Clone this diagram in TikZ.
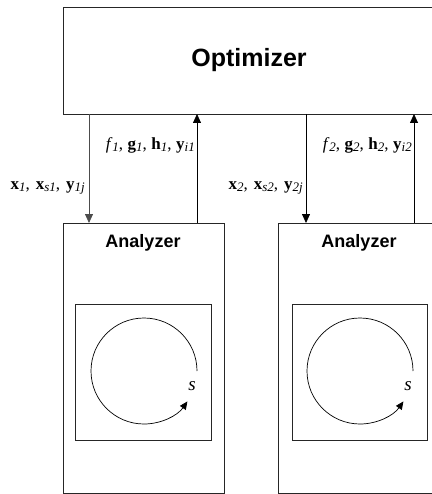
\documentclass[tikz,border=0pt]{standalone}
\usepackage{fontspec}
\setmainfont{Liberation Serif}
\setsansfont{Liberation Sans}
\usetikzlibrary{arrows.meta}
\tikzset{
  box/.style={draw=black!85, line width=0.9pt, inner sep=0pt},
  title/.style={font=\sffamily\bfseries\fontsize{25}{28}\selectfont},
  subtitle/.style={font=\sffamily\bfseries\fontsize{18}{21}\selectfont},
  lab/.style={font=\fontsize{17}{19}\selectfont, inner sep=1pt},
  flow/.style={line width=0.8pt, -{Triangle[length=9pt,width=8pt]}},
  loop/.style={line width=0.7pt, -{Triangle[length=8pt,width=7pt]}}
}
\newcommand{\sbi}[1]{\raisebox{-0.3ex}{\fontsize{13}{14}\selectfont\itshape #1}}
\newcommand{\sepa}{,\hskip 6pt}
\newcommand{\sepb}{,\hskip 4.5pt}
\begin{document}
\begin{tikzpicture}[x=1pt,y=-1pt]
\useasboundingbox (0,0) rectangle (431,494);
% Optimizer
\node[box, minimum width=372pt, minimum height=107pt, anchor=north west] (opt) at (63,7) {};
\node[title] (optt) at (249,60) {Optimizer};
% Analyzers
\node[box, minimum width=161pt, minimum height=270pt, anchor=north west] (an1) at (63,223) {};
\node[box, minimum width=162pt, minimum height=270pt, anchor=north west] (an2) at (278,223) {};
\node[subtitle] (an1t) at (143,243) {Analyzer};
\node[subtitle] (an2t) at (359,243) {Analyzer};
% inner squares
\node[box, line width=0.8pt, minimum width=136pt, minimum height=136pt, anchor=north west] (sq1) at (75,304) {};
\node[box, line width=0.8pt, minimum width=135pt, minimum height=136pt, anchor=north west] (sq2) at (292,304) {};
% circles
\coordinate (c1) at (144,371);
\coordinate (c2) at (360,371);
\draw[loop] ([xshift=53pt]c1) arc[start angle=0, end angle=325, radius=53pt];
\draw[loop] ([xshift=53pt]c2) arc[start angle=0, end angle=325, radius=53pt];
\node[font=\itshape\fontsize{19}{21}\selectfont, inner sep=0pt] (s1) at (192,386) {s};
\node[font=\itshape\fontsize{19}{21}\selectfont, inner sep=0pt] (s2) at (408,386) {s};
% connectors
\coordinate (d1a) at (89,114); \coordinate (d1b) at (89,223);
\coordinate (u1a) at (197,223); \coordinate (u1b) at (197,114);
\coordinate (d2a) at (306,114); \coordinate (d2b) at (306,223);
\coordinate (u2a) at (414,223); \coordinate (u2b) at (414,114);
\draw[flow, draw=black!70] (d1a) -- (d1b);
\draw[flow] (u1a) -- (u1b);
\draw[flow] (d2a) -- (d2b);
\draw[flow] (u2a) -- (u2b);
% labels
\node[lab, anchor=east] (l1) at (196,145) {\textit{f}\sbi{1}\sepb\textbf{g}\sbi{1}\sepb\textbf{h}\sbi{1}\sepb\textbf{y}\sbi{i1}};
\node[lab, anchor=east] (l2) at (86,188) {\textbf{x}\sbi{1}\sepa\textbf{x}\sbi{s1}\sepa\textbf{y}\sbi{1j}};
\node[lab, anchor=east] (l3) at (413,145) {\textit{f}\sbi{2}\sepb\textbf{g}\sbi{2}\sepb\textbf{h}\sbi{2}\sepb\textbf{y}\sbi{i2}};
\node[lab, anchor=east] (l4) at (304,188) {\textbf{x}\sbi{2}\sepa\textbf{x}\sbi{s2}\sepa\textbf{y}\sbi{2j}};
\end{tikzpicture}
\end{document}
